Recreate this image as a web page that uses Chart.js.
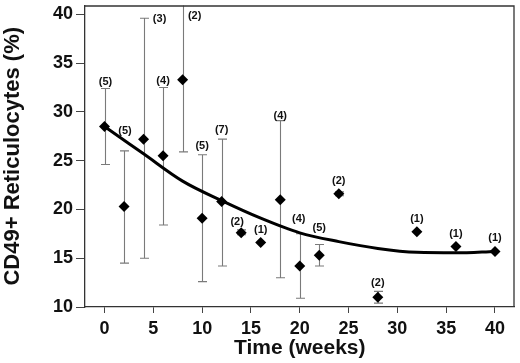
<!DOCTYPE html>
<html>
<head>
<meta charset="utf-8">
<script src="https://cdn.jsdelivr.net/npm/chart.js@4/dist/chart.umd.min.js"></script>
<style>
  html, body { margin: 0; padding: 0; background: #fff; }
  #wrap { width: 520px; height: 363px; }
</style>
</head>
<body>
<div id="wrap"><canvas id="c" width="520" height="363"></canvas></div>
<script>
// ---- data ----
const weeks    = [0, 2, 4, 6, 8, 10, 12, 14, 16, 18, 20, 22, 24, 28, 32, 36, 40];
const meanPct  = [28.5, 20.3, 27.2, 25.5, 33.3, 19.1, 20.8, 17.6, 16.6, 21.0, 14.2, 15.3, 21.6, 11.0, 17.7, 16.2, 15.7];
const errHigh  = [32.4, 26.0, 39.6, 32.5, 40.9, 25.6, 27.2, 17.9, null, 29.1, 17.5, 16.4, 21.8, 11.6, null, null, null];
const errLow   = [24.6, 14.5, 15.0, 18.4, 25.9, 12.6, 14.2, 17.4, null, 13.0, 10.9, 14.2, 21.4, 10.4, null, null, null];
const nCounts  = [5, 5, 3, 4, 2, 5, 7, 2, 1, 4, 4, 5, 2, 2, 1, 1, 1];
const fitWeeks = [0, 4, 8, 12, 16, 20, 24, 28, 32, 36, 40];
const fitPct   = [28.5, 25.7, 22.9, 20.9, 19.1, 17.6, 16.7, 16.0, 15.6, 15.55, 15.7];
const xTicks   = [0, 5, 10, 15, 20, 25, 30, 35, 40];
const yTicks   = [10, 15, 20, 25, 30, 35, 40];

// label placement tweaks (pixel offsets of "(n)" labels)
const labelShift = {
  0: [1, 2], 2: [1, -12], 4: [16, 9], 6: [0, 2], 8: [12, 18], 10: [0, -1], 12: [0, -1],
  14: [-4, 2], 18: [0, 3], 20: [-1, -7], 22: [0, -9]
};

const FONT = "'Liberation Sans', Arial, Helvetica, sans-serif";

const errorBars = {
  id: 'errorBars',
  beforeDatasetsDraw(chart) {
    const ctx = chart.ctx, xs = chart.scales.x, ys = chart.scales.y;
    ctx.save();
    ctx.strokeStyle = '#7a7a7a';
    ctx.lineWidth = 1.1;
    weeks.forEach((w, i) => {
      if (errHigh[i] == null) return;
      const px = Math.round(xs.getPixelForValue(w)) + 0.5;
      const top = ys.getPixelForValue(Math.min(errHigh[i], ys.max));
      const bot = ys.getPixelForValue(errLow[i]);
      ctx.beginPath();
      ctx.moveTo(px, top); ctx.lineTo(px, bot);
      if (errHigh[i] <= ys.max - 0.05) { ctx.moveTo(px - 4.5, top); ctx.lineTo(px + 4.5, top); }
      ctx.moveTo(px - 4.5, bot); ctx.lineTo(px + 4.5, bot);
      ctx.stroke();
    });
    ctx.restore();
  },
  afterDatasetsDraw(chart) {
    const ctx = chart.ctx, xs = chart.scales.x, ys = chart.scales.y, a = chart.chartArea;
    ctx.save();
    // frame top & right
    ctx.strokeStyle = '#333';
    ctx.lineWidth = 1.3;
    ctx.beginPath();
    ctx.moveTo(a.left, a.top + 0.5); ctx.lineTo(a.right - 0.5, a.top + 0.5); ctx.lineTo(a.right - 0.5, a.bottom);
    ctx.stroke();
    // n labels
    ctx.fillStyle = '#111';
    ctx.font = 'bold 11px ' + FONT;
    ctx.textAlign = 'center';
    ctx.textBaseline = 'middle';
    weeks.forEach((w, i) => {
      const px = xs.getPixelForValue(w);
      let py;
      if (errHigh[i] != null && errHigh[i] - meanPct[i] > 0.5) {
        py = ys.getPixelForValue(Math.min(errHigh[i], ys.max)) - 8;
      } else {
        py = ys.getPixelForValue(meanPct[i]) - 13;
      }
      const s = labelShift[w] || [0, 0];
      ctx.fillText('(' + nCounts[i] + ')', px + s[0], py + s[1]);
    });
    ctx.restore();
  }
};

new Chart(document.getElementById('c'), {
  type: 'scatter',
  data: {
    datasets: [
      {
        label: 'mean',
        data: weeks.map((w, i) => ({ x: w, y: meanPct[i] })),
        pointStyle: 'rectRot',
        pointRadius: 5.5,
        pointBackgroundColor: '#000',
        pointBorderColor: '#000',
        pointBorderWidth: 0,
        showLine: false
      },
      {
        label: 'fit',
        type: 'line',
        data: fitWeeks.map((w, i) => ({ x: w, y: fitPct[i] })),
        borderColor: '#000',
        borderWidth: 3,
        pointRadius: 0,
        fill: false,
        cubicInterpolationMode: 'monotone'
      }
    ]
  },
  options: {
    responsive: false,
    animation: false,
    events: [],
    layout: { padding: { top: 2, right: 2, left: 0, bottom: 0 } },
    plugins: { legend: { display: false }, tooltip: { enabled: false } },
    scales: {
      x: {
        type: 'linear',
        min: -2, max: 42,
        afterFit(s) { s.height = 56; s.paddingLeft = 0; s.paddingRight = 0; },
        afterBuildTicks(s) { s.ticks = xTicks.map(v => ({ value: v })); },
        grid: { drawOnChartArea: false, drawTicks: true, tickLength: 6, color: '#444', tickWidth: 1 },
        border: { display: true, color: '#333', width: 1.3 },
        ticks: { color: '#111', padding: 5, font: { family: FONT, size: 18, weight: 'bold' }, maxRotation: 0 },
        title: { display: true, text: 'Time (weeks)', color: '#111', padding: { top: 0, bottom: 2 },
                 font: { family: FONT, size: 21, weight: 'bold' } }
      },
      y: {
        type: 'linear',
        min: 10, max: 40.9,
        afterFit(s) { s.width = 85; s.paddingTop = 0; s.paddingBottom = 0; },
        afterBuildTicks(s) { s.ticks = yTicks.map(v => ({ value: v })); },
        grid: { drawOnChartArea: false, drawTicks: true, tickLength: 9, color: '#444', tickWidth: 1 },
        border: { display: true, color: '#333', width: 1.3 },
        ticks: { color: '#111', padding: 3, font: { family: FONT, size: 18, weight: 'bold' } },
        title: { display: true, text: 'CD49+ Reticulocytes (%)', color: '#111', padding: { top: 0, bottom: 0 },
                 font: { family: FONT, size: 22, weight: 'bold' } }
      }
    }
  },
  plugins: [errorBars]
});
</script>
</body>
</html>
